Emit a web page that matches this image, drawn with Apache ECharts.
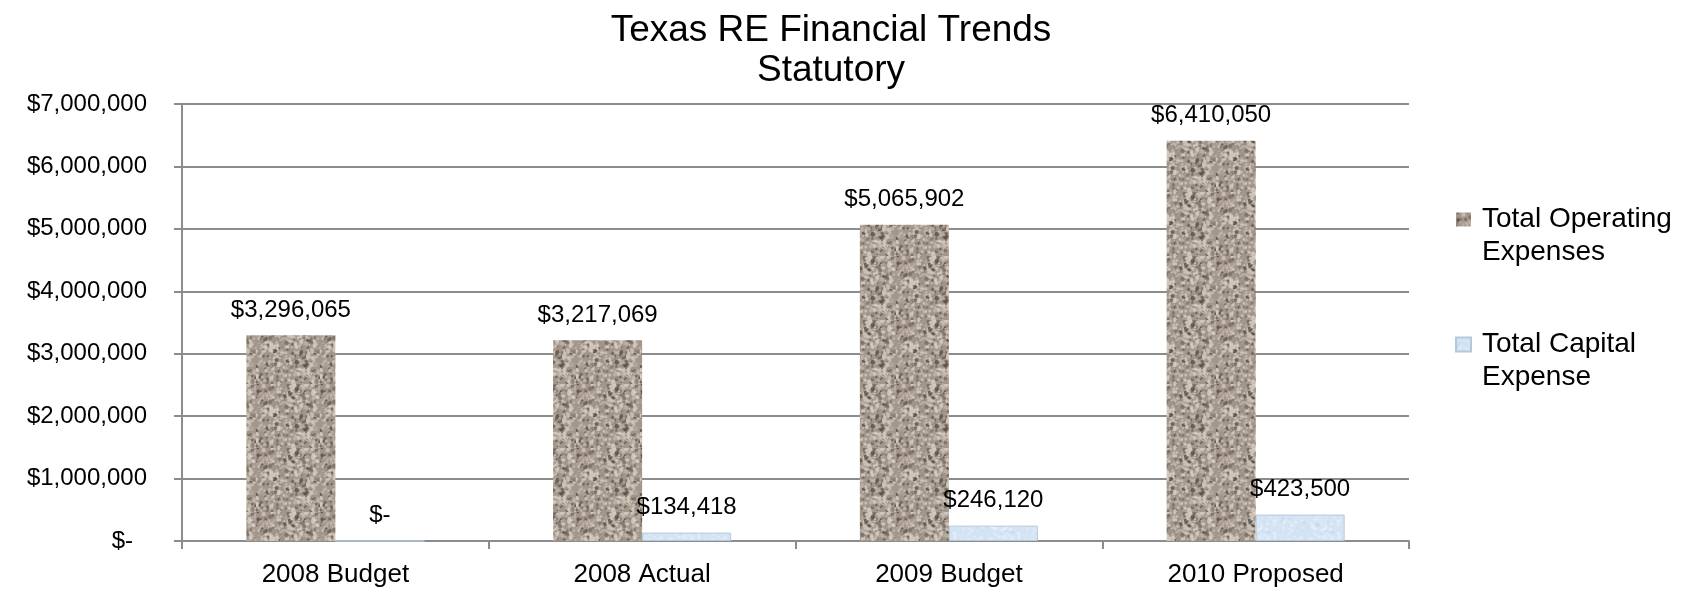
<!DOCTYPE html>
<html>
<head>
<meta charset="utf-8">
<script src="https://cdn.jsdelivr.net/npm/echarts@6/dist/echarts.min.js"></script>
<style>
  html, body { margin: 0; padding: 0; background: #fff; }
  #main { width: 1686px; height: 595px; }
</style>
</head>
<body>
<div id="main"></div>
<script>
// chart data
var categories = ['2008 Budget', '2008 Actual', '2009 Budget', '2010 Proposed'];
var operatingValues = [3296065, 3217069, 5065902, 6410050];
var capitalValues = [0, 134418, 246120, 423500];
var seriesNames = ['Total Operating Expenses', 'Total Capital Expense'];
var legendLabels = ['Total Operating\nExpenses', 'Total Capital\nExpense'];

var FONT = 'Liberation Sans, Arial, sans-serif';

// speckled "granite" fill, like the office texture
function makeTexture(base, light, dark, density, maxSize) {
    var c = document.createElement('canvas');
    c.width = 64; c.height = 64;
    var ctx = c.getContext('2d');
    ctx.fillStyle = base;
    ctx.fillRect(0, 0, 64, 64);
    var seed = 11;
    function rnd() { seed = (seed * 16807) % 2147483647; return seed / 2147483647; }
    for (var i = 0; i < density; i++) {
        var x = rnd() * 64, y = rnd() * 64, r = rnd();
        ctx.fillStyle = r < 0.5 ? light : (r < 0.72 ? dark : base);
        ctx.globalAlpha = 0.35 + rnd() * 0.5;
        ctx.beginPath();
        ctx.arc(x, y, 0.6 + rnd() * maxSize, 0, Math.PI * 2);
        ctx.fill();
    }
    ctx.globalAlpha = 1;
    return c;
}

var opTex = makeTexture('#a3968b', '#d6cdc3', '#5c4f45', 900, 1.6);
var capTex = makeTexture('#d4e4f4', '#e8f1fb', '#c6d8ec', 300, 1.5);

function money(v) {
    if (v === 0) return '$-';
    return '$' + v.toString().replace(/\B(?=(\d{3})+(?!\d))/g, ',');
}

var myChart = echarts.init(document.getElementById('main'));
myChart.setOption({
    animation: false,
    title: {
        text: 'Texas RE Financial Trends\nStatutory',
        left: 826,
        textAlign: 'center',
        top: 6,
        textStyle: {
            fontFamily: FONT,
            fontWeight: 'normal',
            fontSize: 37,
            lineHeight: 40,
            color: '#000'
        }
    },
    legend: {
        orient: 'vertical',
        left: 1450,
        top: 165,
        itemGap: 26,
        itemWidth: 15,
        itemHeight: 14,
        icon: 'rect',
        data: seriesNames,
        formatter: function (name) {
            return '\n' + legendLabels[seriesNames.indexOf(name)];
        },
        textStyle: {
            fontFamily: FONT,
            fontSize: 28,
            lineHeight: 33,
            color: '#000',
            padding: [0, 0, 0, 6]
        }
    },
    grid: {
        left: 182,
        right: 277,
        top: 104,
        bottom: 54
    },
    xAxis: {
        type: 'category',
        data: categories,
        axisLine: { lineStyle: { color: '#8c8c8c', width: 2 } },
        axisTick: { show: true, length: 8, lineStyle: { color: '#8c8c8c', width: 2 } },
        axisLabel: {
            margin: 21,
            fontFamily: FONT,
            fontSize: 26,
            color: '#000'
        }
    },
    yAxis: {
        type: 'value',
        min: 0,
        max: 7000000,
        interval: 1000000,
        axisLine: { show: true, lineStyle: { color: '#8c8c8c', width: 2 } },
        axisTick: { show: true, length: 8, lineStyle: { color: '#8c8c8c', width: 2 } },
        splitLine: { lineStyle: { color: '#8c8c8c', width: 2 } },
        axisLabel: {
            margin: 35,
            fontFamily: FONT,
            fontSize: 24,
            color: '#000',
            formatter: function (v) {
                return v === 0 ? '{z|$-}' : money(v);
            },
            rich: {
                z: {
                    fontFamily: FONT,
                    fontSize: 24,
                    color: '#000',
                    padding: [0, 14, 0, 0]
                }
            }
        }
    },
    series: [{
        name: seriesNames[0],
        type: 'bar',
        data: operatingValues,
        barWidth: 89,
        barGap: '0%',
        itemStyle: { color: { image: opTex, repeat: 'repeat' } },
        label: {
            show: true,
            position: 'top',
            distance: 13,
            fontFamily: FONT,
            fontSize: 24,
            color: '#000',
            formatter: function (p) { return money(p.value); }
        }
    }, {
        name: seriesNames[1],
        type: 'bar',
        data: capitalValues,
        barWidth: 89,
        barGap: '0%',
        itemStyle: {
            color: { image: capTex, repeat: 'repeat' },
            borderColor: '#b5c9dd',
            borderWidth: 1
        },
        label: {
            show: true,
            position: 'top',
            distance: 13,
            fontFamily: FONT,
            fontSize: 24,
            color: '#000',
            formatter: function (p) { return money(p.value); }
        }
    }]
});
</script>
</body>
</html>
